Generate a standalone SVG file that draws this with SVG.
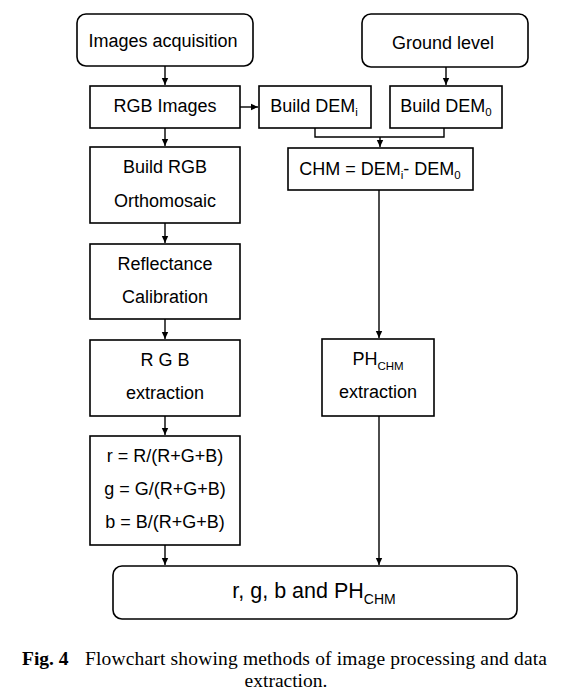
<svg xmlns="http://www.w3.org/2000/svg" width="570" height="697" viewBox="0 0 570 697">
<defs>
<marker id="ah" markerWidth="8" markerHeight="8" refX="7" refY="4" orient="auto" markerUnits="userSpaceOnUse">
<path d="M0,0.8 L7,4 L0,7.2 Z" fill="#000"/>
</marker>
<style>
.box{fill:#fff;stroke:#000;stroke-width:1.6}
.t{font-family:"Liberation Sans",Arial,sans-serif;font-size:18px;fill:#000;text-anchor:middle}
.sub{font-size:11.5px}
.ln{fill:none;stroke:#000;stroke-width:1.4}
.cap{font-family:"Liberation Serif","Times New Roman",serif;font-size:19.5px;fill:#000}
</style>
</defs>
<rect width="570" height="697" fill="#fff"/>
<g id="connectors">
<line class="ln" x1="165" y1="66" x2="165" y2="85" marker-end="url(#ah)"/>
<line class="ln" x1="240" y1="107" x2="258" y2="107" marker-end="url(#ah)"/>
<line class="ln" x1="446" y1="67" x2="446" y2="85" marker-end="url(#ah)"/>
<polyline class="ln" points="315,128 315,137 444,137 444,128"/>
<line class="ln" x1="380" y1="137" x2="380" y2="147" marker-end="url(#ah)"/>
<line class="ln" x1="165" y1="128" x2="165" y2="146" marker-end="url(#ah)"/>
<line class="ln" x1="165" y1="223" x2="165" y2="243" marker-end="url(#ah)"/>
<line class="ln" x1="165" y1="319" x2="165" y2="339" marker-end="url(#ah)"/>
<line class="ln" x1="165" y1="416" x2="165" y2="435" marker-end="url(#ah)"/>
<line class="ln" x1="165" y1="545" x2="165" y2="565" marker-end="url(#ah)"/>
<line class="ln" x1="379" y1="190" x2="379" y2="338" marker-end="url(#ah)"/>
<line class="ln" x1="379" y1="416" x2="379" y2="565" marker-end="url(#ah)"/>
</g>
<g id="n-acq"><rect class="box" x="77" y="14" width="176" height="52" rx="9"/><text class="t" x="163" y="47">Images acquisition</text></g>
<g id="n-ground"><rect class="box" x="362" y="14" width="166" height="53" rx="9"/><text class="t" x="443" y="49">Ground level</text></g>
<g id="n-rgbimg"><rect class="box" x="90" y="86" width="150" height="42"/><text class="t" x="165" y="112">RGB Images</text></g>
<g id="n-demi"><rect class="box" x="259" y="86" width="112" height="42"/><text class="t" x="314" y="112">Build DEM<tspan class="sub" dy="4">i</tspan></text></g>
<g id="n-dem0"><rect class="box" x="390" y="86" width="112" height="42"/><text class="t" x="446" y="112">Build DEM<tspan class="sub" dy="4">0</tspan></text></g>
<g id="n-chm"><rect class="box" x="288" y="148" width="185" height="42"/><text class="t" x="380" y="175">CHM = DEM<tspan class="sub" dy="4">i</tspan><tspan dy="-4">- DEM</tspan><tspan class="sub" dy="4">0</tspan></text></g>
<g id="n-ortho"><rect class="box" x="90" y="147" width="150" height="76"/><text class="t" x="165" y="173">Build RGB</text><text class="t" x="165" y="207">Orthomosaic</text></g>
<g id="n-refl"><rect class="box" x="90" y="244" width="150" height="75"/><text class="t" x="165" y="270">Reflectance</text><text class="t" x="165" y="303">Calibration</text></g>
<g id="n-rgbx"><rect class="box" x="90" y="340" width="150" height="76"/><text class="t" x="165" y="366">R G B</text><text class="t" x="165" y="399">extraction</text></g>
<g id="n-ph"><rect class="box" x="322" y="339" width="112" height="77"/><text class="t" x="378" y="365">PH<tspan class="sub" dy="5">CHM</tspan></text><text class="t" x="378" y="398">extraction</text></g>
<g id="n-form"><rect class="box" x="90" y="436" width="150" height="109"/><text class="t" x="165" y="462">r = R/(R+G+B)</text><text class="t" x="165" y="495">g = G/(R+G+B)</text><text class="t" x="165" y="528">b = B/(R+G+B)</text></g>
<g id="n-final"><rect class="box" x="113" y="566" width="404" height="53" rx="9"/><text class="t" x="314" y="598" style="font-size:21.5px">r, g, b and PH<tspan class="sub" dy="6" style="font-size:14px">CHM</tspan></text></g>
<text class="cap" x="22" y="665"><tspan font-weight="bold">Fig. 4</tspan><tspan x="85" textLength="462" lengthAdjust="spacing">Flowchart showing methods of image processing and data</tspan></text>
<text class="cap" x="286" y="687" text-anchor="middle">extraction.</text>
</svg>
